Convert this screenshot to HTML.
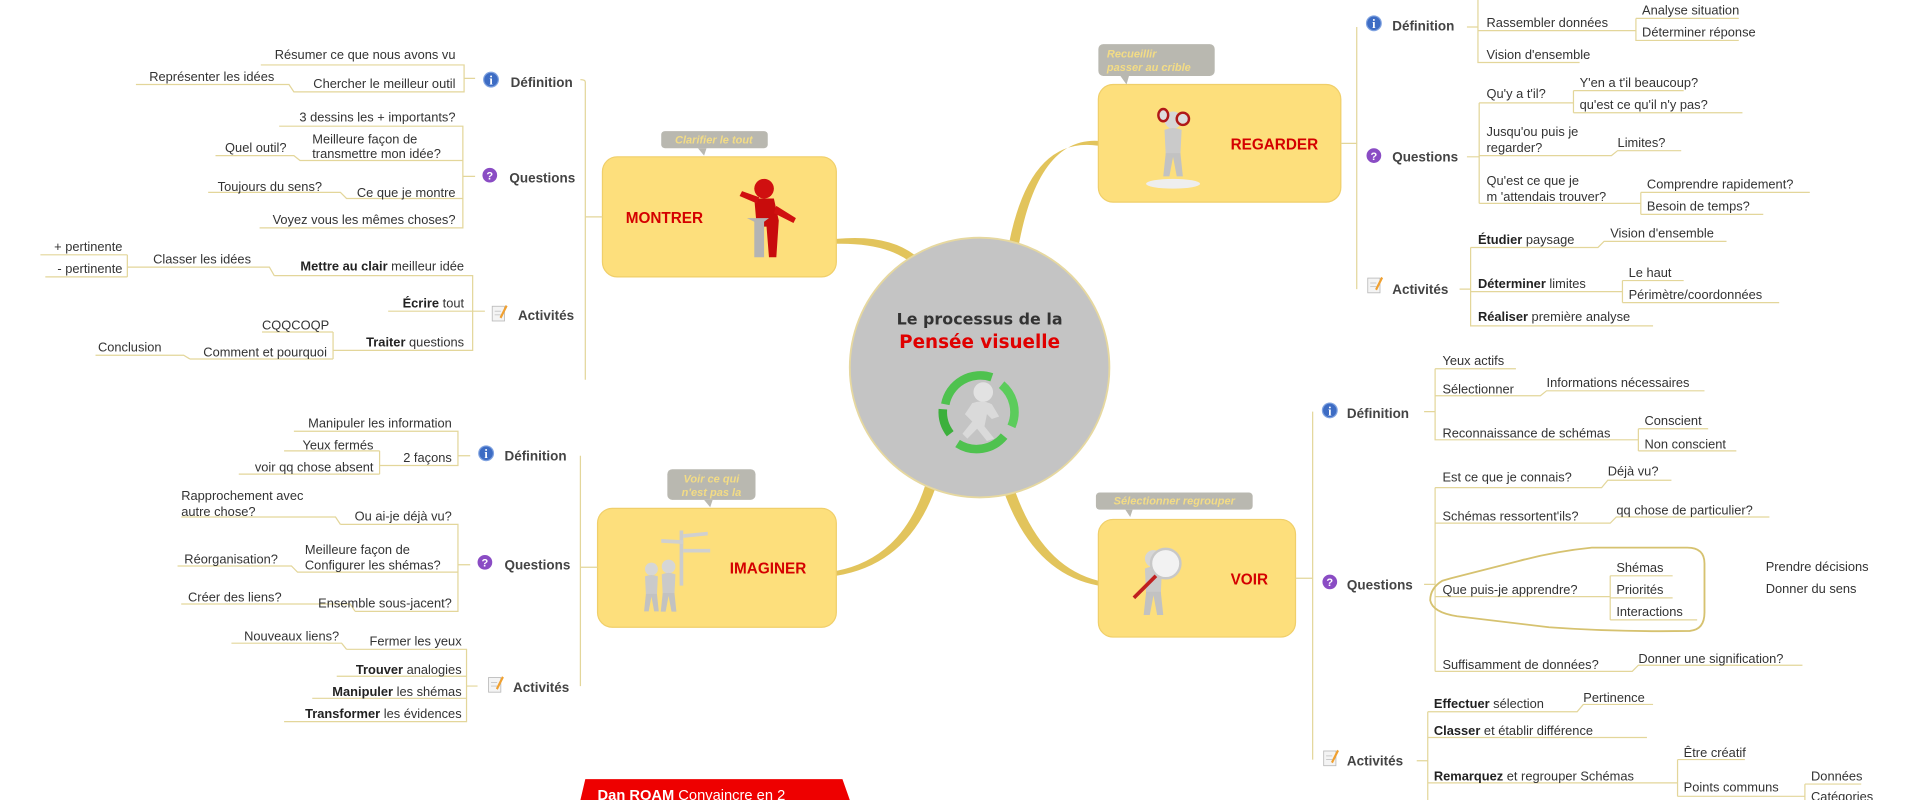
<!DOCTYPE html>
<html><head><meta charset="utf-8"><style>
html,body{margin:0;padding:0;background:#fff;width:1920px;height:800px;overflow:hidden}
svg{display:block}
.t{font-family:"Liberation Sans",sans-serif;font-size:10.5px;fill:#333}
.b{font-family:"Liberation Sans",sans-serif;font-size:11px;font-weight:bold;fill:#444}
.bb{font-weight:bold;fill:#222}
.u{stroke:#e3d69a;stroke-width:1;fill:none}
.cal{font-family:"Liberation Sans",sans-serif;font-size:9px;font-style:italic;font-weight:bold;fill:#f3dc85}
.box{fill:#fddf7c;stroke:#f0cf6a;stroke-width:1}
.ttl{font-family:"Liberation Sans",sans-serif;font-weight:bold;font-size:12.5px;fill:#d40000}
</style></head><body>
<svg width="1920" height="800" viewBox="0 0 1568 653" preserveAspectRatio="none" xmlns="http://www.w3.org/2000/svg">
<defs>
<g id="ii"><circle r="6" fill="#3d6cc4"/><circle r="6" fill="none" stroke="#7fa2e0" stroke-width="1"/><text x="0" y="4" text-anchor="middle" font-family="Liberation Serif" font-weight="bold" font-size="10" fill="#fff">i</text></g>
<g id="qq"><circle r="6" fill="#8a4cc4"/><text x="0" y="3.5" text-anchor="middle" font-family="Liberation Sans" font-weight="bold" font-size="9" fill="#fff">?</text></g>
<g id="nn"><rect x="-5" y="-6" width="10" height="12" fill="#f4f4f4" stroke="#bbb" stroke-width="0.7"/><line x1="-3" y1="-2" x2="2" y2="-2" stroke="#bbb" stroke-width="0.6"/><line x1="-3" y1="1" x2="2" y2="1" stroke="#bbb" stroke-width="0.6"/><path d="M1 3 L6 -7 L7.5 -6 L2.5 4 Z" fill="#f0a030"/></g>
<g id="guy"><circle cx="0" cy="-22" r="7" fill="#d6d6d6"/><path d="M-7 -14 Q0 -17 7 -14 L6 6 L-6 6 Z" fill="#cacaca"/><path d="M-6 5 L-8 24 L-3 24 L0 8 L3 24 L8 24 L6 5 Z" fill="#c2c2c2"/></g>
</defs>

<path d="M683 195 Q735 190 757 218 L752 222 Q732 198 683 199 Z" fill="#e2c45c"/>
<path d="M897 115 Q845 112 830 212 L822 210 Q838 110 897 119 Z" fill="#e2c45c"/>
<path d="M758 388 Q740 455 683 466 L683 470 Q745 460 766 392 Z" fill="#e2c45c"/>
<path d="M826 392 Q848 462 897 474 L897 478 Q842 468 818 396 Z" fill="#e2c45c"/>

<circle cx="800" cy="300" r="106" fill="#c4c4c4" stroke="#e6d8a0" stroke-width="1.5"/>
<text x="800" y="265" text-anchor="middle" font-family="DejaVu Sans,sans-serif" font-weight="bold" font-size="13" fill="#333">Le processus de la</text>
<text x="800" y="284" text-anchor="middle" font-family="DejaVu Sans,sans-serif" font-weight="bold" font-size="15" fill="#e00000">Pensée visuelle</text>
<g transform="translate(800,336)">
<path d="M-28 -6 A29 29 0 0 1 10 -28" stroke="#4fc24f" stroke-width="7" fill="none"/>
<path d="M18 -22 A29 29 0 0 1 26 12" stroke="#5ccc5c" stroke-width="7" fill="none"/>
<path d="M20 20 A29 29 0 0 1 -18 26" stroke="#4fc24f" stroke-width="7" fill="none"/>
<path d="M-24 18 A29 29 0 0 1 -30 -2" stroke="#3cb03c" stroke-width="7" fill="none"/>
<circle cx="3" cy="-16" r="8" fill="#e2e2e2"/>
<path d="M-6 -7 Q3 -10 10 -6 L16 4 L10 6 L6 2 L4 12 L12 22 L6 24 L-2 14 L-10 22 L-14 18 L-6 8 L-12 2 Z" fill="#dadada"/>
</g>

<rect class="box" x="492" y="128" width="191" height="98" rx="12"/>
<text class="ttl" x="511" y="182">MONTRER</text>
<g transform="translate(620,180)"><circle cx="4" cy="-26" r="8" fill="#d01010"/><path d="M-4 -18 L12 -18 L16 0 L14 30 L8 30 L6 5 L-2 5 Z" fill="#c80c0c"/><path d="M-2 -14 L-16 -20 L-14 -24 L0 -19 Z" fill="#d01010"/><path d="M14 -12 L30 -2 L28 2 L12 -6 Z" fill="#d01010"/><path d="M-10 -2 L8 -2 L4 1 L4 30 L-4 30 L-4 1 Z" fill="#b4b4b4"/></g>
<rect x="540" y="107" width="87" height="14" rx="3" fill="#b9b8b0"/><path d="M570 121 L575 127 L577 121 Z" fill="#b9b8b0"/>
<text class="cal" x="583" y="117" text-anchor="middle">Clarifier le tout</text>

<rect class="box" x="897" y="69" width="198" height="96" rx="12"/>
<text class="ttl" x="1005" y="122">REGARDER</text>
<g transform="translate(958,120)"><ellipse cx="0" cy="30" rx="22" ry="4" fill="#eee"/><use href="#guy"/><ellipse cx="-8" cy="-26" rx="5" ry="6" fill="#b01818"/><ellipse cx="8" cy="-23" rx="6" ry="6" fill="#b01818"/><ellipse cx="-8" cy="-26" rx="3" ry="4" fill="#ddd"/><ellipse cx="8" cy="-23" rx="4" ry="4" fill="#ddd"/></g>
<rect x="897" y="36" width="95" height="26" rx="4" fill="#b9b8b0"/><path d="M915 62 L920 69 L922 62 Z" fill="#b9b8b0"/>
<text class="cal" x="904" y="47">Recueillir</text><text class="cal" x="904" y="58">passer au crible</text>

<rect class="box" x="488" y="415" width="195" height="97" rx="12"/>
<text class="ttl" x="596" y="468">IMAGINER</text>
<g transform="translate(540,478)"><rect x="15" y="-45" width="3" height="45" fill="#ccc"/><path d="M18 -42 L38 -44 L38 -41 L18 -39Z M0 -38 L18 -37 L18 -34 L0 -35Z M18 -30 L40 -30 L40 -27 L18 -27Z" fill="#d0d0d0"/><g transform="translate(-8,3) scale(0.75)"><use href="#guy"/></g><g transform="translate(6,2) scale(0.8)"><use href="#guy"/></g></g>
<rect x="545" y="383" width="72" height="25" rx="4" fill="#b9b8b0"/><path d="M575 408 L580 414 L582 408 Z" fill="#b9b8b0"/>
<text class="cal" x="581" y="394" text-anchor="middle">Voir ce qui</text><text class="cal" x="581" y="405" text-anchor="middle">n'est pas la</text>

<rect class="box" x="897" y="424" width="161" height="96" rx="12"/>
<text class="ttl" x="1005" y="477">VOIR</text>
<g transform="translate(942,478)"><use href="#guy"/><circle cx="10" cy="-18" r="12" fill="#f2f2f2" stroke="#c8c8c8" stroke-width="2"/><line x1="2" y1="-8" x2="-16" y2="10" stroke="#c02020" stroke-width="3"/></g>
<rect x="895" y="402" width="128" height="14" rx="3" fill="#b9b8b0"/><path d="M919 416 L923 422 L925 416 Z" fill="#b9b8b0"/>
<text class="cal" x="959" y="412" text-anchor="middle">Sélectionner regrouper</text>

<path d="M478 636 L688 636 L694 653 L474 653 Z" fill="#ee0000"/>
<text x="488" y="653" font-family="Liberation Sans" font-weight="bold" font-size="12" fill="#fff">Dan ROAM <tspan font-weight="normal">Convaincre en 2</tspan></text>

<path class="u" d="M478 67 L478 310 M478 177 L492 177 M478 67 Q478 65 474 65"/>
<use href="#ii" x="401" y="65"/><text class="b" x="417" y="71">Définition</text>
<use href="#qq" x="400" y="143"/><text class="b" x="416" y="149">Questions</text>
<use href="#nn" x="407" y="256"/><text class="b" x="423" y="261">Activités</text>
<path class="u" d="M213 53 L379 53 L379 75 L240 75 L236 69 L111 69 M379 64 L388 64"/>
<text class="t" x="372" y="48" text-anchor="end">Résumer ce que nous avons vu</text>
<text class="t" x="372" y="72" text-anchor="end">Chercher le meilleur outil</text>
<text class="t" x="224" y="66" text-anchor="end">Représenter les idées</text>
<path class="u" d="M228 103 L378 103 L378 186 L212 186 M378 131 L245 131 L240 127 L176 127 M378 162 L283 162 L278 157 L170 157 M378 144 L388 144"/>
<text class="t" x="372" y="99" text-anchor="end">3 dessins les + importants?</text>
<text class="t" x="255" y="117">Meilleure façon de</text>
<text class="t" x="255" y="129">transmettre mon idée?</text>
<text class="t" x="234" y="124" text-anchor="end">Quel outil?</text>
<text class="t" x="372" y="161" text-anchor="end">Ce que je montre</text>
<text class="t" x="263" y="156" text-anchor="end">Toujours du sens?</text>
<text class="t" x="372" y="183" text-anchor="end">Voyez vous les mêmes choses?</text>
<path class="u" d="M224 225 L386 225 L386 286 L288 286 M386 254 L317 254 M386 254 L396 254 M224 225 L220 218 L104 218 M104 208 L104 226 M33 208 L104 208 M37 226 L104 226 M288 286 L272 286 M272 271 L272 293 M214 271 L272 271 M155 293 L272 293 M155 293 L150 290 L78 290"/>
<text class="t" x="379" y="221" text-anchor="end"><tspan class="bb">Mettre au clair</tspan> meilleur idée</text>
<text class="t" x="205" y="215" text-anchor="end">Classer les idées</text>
<text class="t" x="100" y="205" text-anchor="end">+ pertinente</text>
<text class="t" x="100" y="223" text-anchor="end">- pertinente</text>
<text class="t" x="379" y="251" text-anchor="end"><tspan class="bb">Écrire</tspan> tout</text>
<text class="t" x="379" y="283" text-anchor="end"><tspan class="bb">Traiter</tspan> questions</text>
<text class="t" x="214" y="269">CQQCOQP</text>
<text class="t" x="267" y="291" text-anchor="end">Comment et pourquoi</text>
<text class="t" x="80" y="287">Conclusion</text>

<path class="u" d="M474 372 L474 560 M474 463 L488 463"/>
<use href="#ii" x="397" y="370"/><text class="b" x="412" y="376">Définition</text>
<use href="#qq" x="396" y="459"/><text class="b" x="412" y="465">Questions</text>
<use href="#nn" x="404" y="559"/><text class="b" x="419" y="565">Activités</text>
<path class="u" d="M240 352 L374 352 L374 380 L318 380 M374 372 L384 372 M318 380 L310 380 M310 368 L310 387 M232 368 L310 368 M195 387 L310 387"/>
<text class="t" x="369" y="349" text-anchor="end">Manipuler les information</text>
<text class="t" x="369" y="377" text-anchor="end">2 façons</text>
<text class="t" x="305" y="367" text-anchor="end">Yeux fermés</text>
<text class="t" x="305" y="385" text-anchor="end">voir qq chose absent</text>
<path class="u" d="M278 428 L374 428 L374 499 L290 499 M278 428 L274 422 L148 422 M374 467 L243 467 L238 462 L145 462 M290 499 L286 493 L148 493 M374 461 L384 461"/>
<text class="t" x="369" y="425" text-anchor="end">Ou ai-je déjà vu?</text>
<text class="t" x="148" y="408">Rapprochement avec</text>
<text class="t" x="148" y="421">autre chose?</text>
<text class="t" x="249" y="452">Meilleure façon de</text>
<text class="t" x="249" y="465">Configurer les shémas?</text>
<text class="t" x="227" y="460" text-anchor="end">Réorganisation?</text>
<text class="t" x="369" y="496" text-anchor="end">Ensemble sous-jacent?</text>
<text class="t" x="230" y="491" text-anchor="end">Créer des liens?</text>
<path class="u" d="M283 530 L381 530 L381 589 L232 589 M275 552 L381 552 M255 570 L381 570 M283 530 L279 525 L189 525 M381 560 L390 560"/>
<text class="t" x="377" y="527" text-anchor="end">Fermer les yeux</text>
<text class="t" x="277" y="523" text-anchor="end">Nouveaux liens?</text>
<text class="t" x="377" y="550" text-anchor="end"><tspan class="bb">Trouver</tspan> analogies</text>
<text class="t" x="377" y="568" text-anchor="end"><tspan class="bb">Manipuler</tspan> les shémas</text>
<text class="t" x="377" y="586" text-anchor="end"><tspan class="bb">Transformer</tspan> les évidences</text>

<path class="u" d="M1108 22 L1108 236 M1095 117 L1108 117"/>
<use href="#ii" x="1122" y="19"/><text class="b" x="1137" y="25">Définition</text>
<use href="#qq" x="1122" y="127"/><text class="b" x="1137" y="132">Questions</text>
<use href="#nn" x="1122" y="233"/><text class="b" x="1137" y="240">Activités</text>
<path class="u" d="M1207 0 L1207 51 L1290 51 M1207 25 L1336 25 M1336 15 L1336 33 L1420 33 M1336 15 L1420 15 M1198 22 L1207 22"/>
<text class="t" x="1214" y="22">Rassembler données</text>
<text class="t" x="1341" y="12">Analyse situation</text>
<text class="t" x="1341" y="30">Déterminer réponse</text>
<text class="t" x="1214" y="48">Vision d'ensemble</text>
<path class="u" d="M1208 84 L1208 166 M1208 84 L1285 84 M1285 74 L1285 92 M1285 74 L1375 74 M1285 92 L1423 92 M1208 127 L1316 127 L1321 123 L1373 123 M1208 166 L1340 166 M1340 157 L1340 175 M1340 157 L1478 157 M1340 175 L1440 175 M1198 128 L1208 128"/>
<text class="t" x="1214" y="80">Qu'y a t'il?</text>
<text class="t" x="1290" y="71">Y'en a t'il beaucoup?</text>
<text class="t" x="1290" y="89">qu'est ce qu'il n'y pas?</text>
<text class="t" x="1214" y="111">Jusqu'ou puis je</text>
<text class="t" x="1214" y="124">regarder?</text>
<text class="t" x="1321" y="120">Limites?</text>
<text class="t" x="1214" y="151">Qu'est ce que je</text>
<text class="t" x="1214" y="164">m 'attendais trouver?</text>
<text class="t" x="1345" y="154">Comprendre rapidement?</text>
<text class="t" x="1345" y="172">Besoin de temps?</text>
<path class="u" d="M1201 202 L1201 266 L1350 266 M1201 202 L1305 202 L1310 197 L1410 197 M1201 238 L1325 238 M1325 229 L1325 247 M1325 229 L1375 229 M1325 247 L1453 247 M1192 236 L1201 236"/>
<text class="t" x="1207" y="199"><tspan class="bb">Étudier</tspan> paysage</text>
<text class="t" x="1315" y="194">Vision d'ensemble</text>
<text class="t" x="1207" y="235"><tspan class="bb">Déterminer</tspan> limites</text>
<text class="t" x="1330" y="226">Le haut</text>
<text class="t" x="1330" y="244">Périmètre/coordonnées</text>
<text class="t" x="1207" y="262"><tspan class="bb">Réaliser</tspan> première analyse</text>

<path class="u" d="M1072 336 L1072 620 M1058 472 L1072 472"/>
<use href="#ii" x="1086" y="335"/><text class="b" x="1100" y="341">Définition</text>
<use href="#qq" x="1086" y="475"/><text class="b" x="1100" y="481">Questions</text>
<use href="#nn" x="1086" y="619"/><text class="b" x="1100" y="625">Activités</text>
<path class="u" d="M1172 301 L1172 359 L1338 359 M1172 301 L1238 301 M1172 323 L1258 323 L1263 319 L1392 319 M1338 350 L1338 368 M1338 350 L1395 350 M1338 368 L1418 368 M1163 336 L1172 336"/>
<text class="t" x="1178" y="298">Yeux actifs</text>
<text class="t" x="1178" y="321">Sélectionner</text>
<text class="t" x="1263" y="316">Informations nécessaires</text>
<text class="t" x="1178" y="357">Reconnaissance de schémas</text>
<text class="t" x="1343" y="347">Conscient</text>
<text class="t" x="1343" y="366">Non conscient</text>
<path class="u" d="M1172 398 L1172 548 M1172 398 L1308 398 L1313 392 L1365 392 M1172 427 L1315 427 L1320 422 L1445 422 M1172 487 L1315 487 M1315 470 L1315 506 M1315 470 L1366 470 M1315 488 L1366 488 M1315 506 L1386 506 M1172 548 L1333 548 L1338 543 L1472 543 M1163 477 L1172 477"/>
<text class="t" x="1178" y="393">Est ce que je connais?</text>
<text class="t" x="1313" y="388">Déjà vu?</text>
<text class="t" x="1178" y="425">Schémas ressortent'ils?</text>
<text class="t" x="1320" y="420">qq chose de particulier?</text>
<text class="t" x="1178" y="485">Que puis-je apprendre?</text>
<text class="t" x="1320" y="467">Shémas</text>
<text class="t" x="1320" y="485">Priorités</text>
<text class="t" x="1320" y="503">Interactions</text>
<path d="M1178 474 Q1168 480 1168 490 Q1170 500 1190 503 L1265 512 Q1320 516 1380 515 Q1392 514 1392 500 L1392 460 Q1392 447 1378 447 L1300 447 Q1270 450 1240 458 L1185 472 Z" fill="none" stroke="#d6c270" stroke-width="1.5"/>
<text class="t" x="1442" y="466">Prendre décisions</text>
<text class="t" x="1442" y="484">Donner du sens</text>
<text class="t" x="1178" y="546">Suffisamment de données?</text>
<text class="t" x="1338" y="541">Donner une signification?</text>
<path class="u" d="M1166 581 L1166 653 M1166 581 L1288 581 L1293 575 L1350 575 M1166 602 L1345 602 M1166 639 L1370 639 M1370 620 L1370 650 M1370 620 L1425 620 M1370 650 L1474 650 M1474 640 L1474 653 M1474 640 L1520 640 M1157 621 L1166 621"/>
<text class="t" x="1171" y="578"><tspan class="bb">Effectuer</tspan> sélection</text>
<text class="t" x="1293" y="573">Pertinence</text>
<text class="t" x="1171" y="600"><tspan class="bb">Classer</tspan> et établir différence</text>
<text class="t" x="1171" y="637"><tspan class="bb">Remarquez</tspan> et regrouper Schémas</text>
<text class="t" x="1375" y="618">Être créatif</text>
<text class="t" x="1375" y="646">Points communs</text>
<text class="t" x="1479" y="637">Données</text>
<text class="t" x="1479" y="654">Catégories</text>
</svg>
</body></html>
